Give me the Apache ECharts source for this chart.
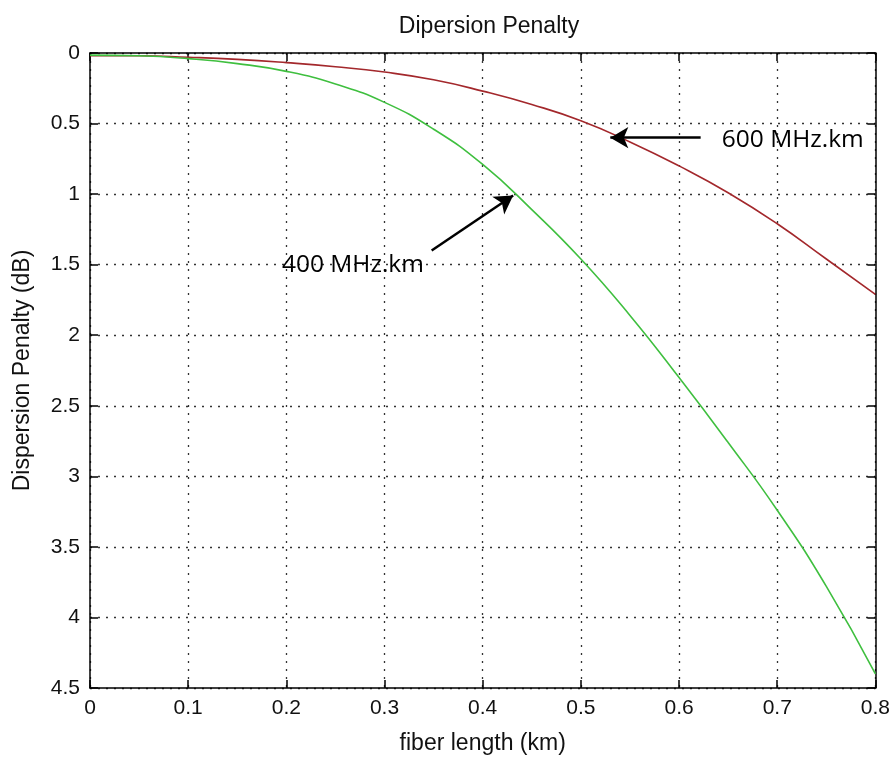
<!DOCTYPE html>
<html>
<head>
<meta charset="utf-8">
<script src="https://cdn.jsdelivr.net/npm/echarts@6/dist/echarts.min.js"></script>
<style>
html,body{margin:0;padding:0;background:#fff;}
#chart{width:893px;height:760px;}
</style>
</head>
<body>
<div id="chart"></div>
<script>
// fiber length (km)
const lengths = [0, 0.05, 0.1, 0.15, 0.2, 0.25, 0.3, 0.35, 0.4, 0.45, 0.5, 0.55, 0.6, 0.65, 0.7, 0.75, 0.8];
// dispersion penalty (dB), 600 MHz.km fiber
const penalty600 = [0.02, 0.02, 0.03, 0.045, 0.068, 0.097, 0.135, 0.19, 0.27, 0.365, 0.48, 0.63, 0.80, 0.99, 1.21, 1.46, 1.71];
// dispersion penalty (dB), 400 MHz.km fiber
const penalty400 = [0.015, 0.02, 0.04, 0.075, 0.13, 0.22, 0.35, 0.54, 0.79, 1.11, 1.46, 1.86, 2.30, 2.76, 3.24, 3.78, 4.40];

const titleText = 'Dipersion Penalty';
const xTitle = 'fiber length (km)';
const yTitle = 'Dispersion Penalty (dB)';
const label600 = '600 MHz.km';
const label400 = '400 MHz.km';
// annotation anchors in data units
const arrow600 = [[0.622, 0.60], [0.530, 0.60]];
const arrow400 = [[0.348, 1.40], [0.431, 1.01]];
const text600At = [0.643, 0.618];
const text400At = [0.195, 1.50];

const axisFont = 'Liberation Sans, Arial, sans-serif';
const axisColor = '#000';
const gridDots = {color: '#333', width: 1.3, type: [2, 6]};

const chart = echarts.init(document.getElementById('chart'), null, {renderer: 'canvas'});

const toPairs = (ys) => lengths.map((x, i) => [x, ys[i]]);

const baseX = {
  type: 'value', min: 0, max: 0.8, interval: 0.1,
  axisLine: {show: true, onZero: false, lineStyle: {color: axisColor, width: 1.5}},
  axisTick: {show: true, inside: true, length: 8, lineStyle: {color: axisColor, width: 1.5}},
};
const baseY = {
  type: 'value', min: 0, max: 4.5, interval: 0.5, inverse: true,
  axisLine: {show: true, onZero: false, lineStyle: {color: axisColor, width: 1.5}},
  axisTick: {show: true, inside: true, length: 8, lineStyle: {color: axisColor, width: 1.5}},
};

chart.setOption({
  backgroundColor: '#fff',
  animation: false,
  title: {
    text: titleText,
    left: 484, top: 10, textAlign: 'center',
    textStyle: {fontFamily: axisFont, fontSize: 23, fontWeight: 'normal', color: '#111'}
  },
  grid: {left: 90, right: 15, top: 53, bottom: 65, containLabel: false},
  xAxis: [
    Object.assign({}, baseX, {
      position: 'bottom',
      name: xTitle, nameLocation: 'middle', nameGap: 44,
      nameTextStyle: {fontFamily: axisFont, fontSize: 23, color: '#111'},
      axisLabel: {show: true, margin: 10, fontFamily: axisFont, fontSize: 21, color: '#111'},
      splitLine: {show: true, lineStyle: gridDots}
    }),
    Object.assign({}, baseX, {
      position: 'top',
      axisLabel: {show: false},
      splitLine: {show: false}
    })
  ],
  yAxis: [
    Object.assign({}, baseY, {
      position: 'left',
      name: yTitle, nameLocation: 'middle', nameGap: 56, nameRotate: 90,
      nameTextStyle: {fontFamily: axisFont, fontSize: 23, color: '#111'},
      axisLabel: {show: true, margin: 10, fontFamily: axisFont, fontSize: 21, color: '#111'},
      splitLine: {show: true, lineStyle: gridDots}
    }),
    Object.assign({}, baseY, {
      position: 'right',
      axisLabel: {show: false},
      splitLine: {show: false}
    })
  ],
  series: [
    {
      name: label600, type: 'line', xAxisIndex: 0, yAxisIndex: 0,
      data: toPairs(penalty600), smooth: 0.5,
      showSymbol: false, symbol: 'none',
      lineStyle: {color: '#a3282c', width: 1.6},
      markLine: {
        silent: true, symbol: ['none', 'arrow'], symbolSize: [16, 18],
        lineStyle: {color: '#000', width: 2.5, type: 'solid'},
        label: {show: false},
        data: [
          [{coord: arrow600[0]}, {coord: arrow600[1]}],
          [{coord: arrow400[0]}, {coord: arrow400[1]}]
        ]
      },
      markPoint: {
        silent: true,
        data: [
          {coord: text600At, symbol: 'rect', symbolSize: 1, itemStyle: {color: 'rgba(0,0,0,0)'},
           label: {show: true, position: 'right', distance: 0, formatter: label600,
                   fontFamily: 'Open Sans, sans-serif', fontSize: 24.5, color: '#000'}},
          {coord: text400At, symbol: 'rect', symbolSize: 1, itemStyle: {color: 'rgba(0,0,0,0)'},
           label: {show: true, position: 'right', distance: 0, formatter: label400,
                   fontFamily: 'Open Sans, sans-serif', fontSize: 24.5, color: '#000'}}
        ]
      }
    },
    {
      name: label400, type: 'line', xAxisIndex: 0, yAxisIndex: 0,
      data: toPairs(penalty400), smooth: 0.5,
      showSymbol: false, symbol: 'none',
      lineStyle: {color: '#3fbf3f', width: 1.6}
    }
  ]
});
</script>
</body>
</html>
